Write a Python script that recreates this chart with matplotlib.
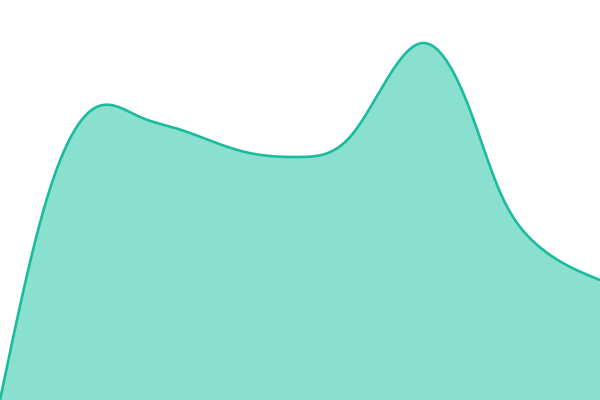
import numpy as np
import matplotlib
matplotlib.use('Agg')
import matplotlib.pyplot as plt

xs = [0, 45, 88, 103, 140, 175, 245, 300, 350, 423, 470, 500, 535, 600]
ys = [0, 195, 287, 295, 283, 272, 248, 243, 263, 357, 290, 208, 157, 120]

def natural_spline(x, y, n=1200):
    x = np.asarray(x, float)
    y = np.asarray(y, float)
    k = len(x)
    h = np.diff(x)
    A = np.zeros((k, k))
    b = np.zeros(k)
    A[0, 0] = 1
    A[-1, -1] = 1
    for i in range(1, k - 1):
        A[i, i-1] = h[i-1]
        A[i, i] = 2 * (h[i-1] + h[i])
        A[i, i+1] = h[i]
        b[i] = 6 * ((y[i+1] - y[i]) / h[i] - (y[i] - y[i-1]) / h[i-1])
    M = np.linalg.solve(A, b)
    gx = np.linspace(x[0], x[-1], n)
    idx = np.clip(np.searchsorted(x, gx) - 1, 0, k - 2)
    x0, x1 = x[idx], x[idx+1]
    hh = x1 - x0
    a = (x1 - gx) / hh
    c = (gx - x0) / hh
    gy = (a * y[idx] + c * y[idx+1]
          + ((a**3 - a) * M[idx] + (c**3 - c) * M[idx+1]) * hh**2 / 6)
    return gx, gy

sx, sy = natural_spline(xs, ys)

fig = plt.figure(figsize=(6, 4), dpi=100)
ax = fig.add_axes([0, 0, 1, 1])
ax.fill_between(sx, 0, sy, color='#8ae0cf', lw=0)
ax.plot(sx, sy, color='#1abc9c', lw=1.9)
ax.set_xlim(0, 600)
ax.set_ylim(0, 400)
ax.axis('off')
fig.savefig('out.png', dpi=100)
